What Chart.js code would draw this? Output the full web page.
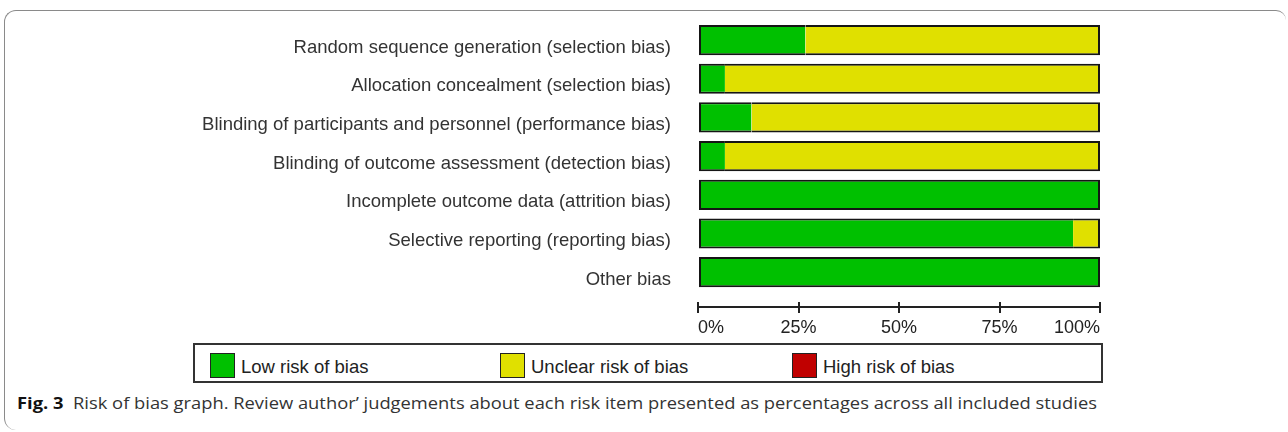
<!DOCTYPE html>
<html>
<head>
<meta charset="utf-8">
<script src="https://cdn.jsdelivr.net/npm/chart.js@4"></script>
<style>
    body { margin: 0; width: 1288px; height: 432px; background: #fff; position: relative; overflow: hidden; }
    #frame { position: absolute; left: 4px; top: 10px; width: 1282px; height: 420px; border-top: 1px solid #8a8a8a; border-left: 1px solid #8a8a8a; border-radius: 12px 10px 0 12px; box-sizing: border-box; }
    #wrap { position: absolute; left: 0; top: 0; width: 1288px; height: 340px; }
    #legend { position: absolute; left: 193px; top: 343px; width: 910px; height: 40px; border: 2px solid #333; box-sizing: border-box; font-family: "Liberation Sans", Arial, sans-serif; font-size: 18.5px; color: #222; }
    .item { position: absolute; top: 8px; height: 25px; line-height: 25px; white-space: nowrap; }
    .item span.box { position: absolute; left: 0; top: 0; width: 23px; height: 23px; border: 1px solid #222; }
    .item span.txt { position: absolute; left: 31px; top: 1px; }
    #caption { position: absolute; left: 17px; top: 392px; font-family: "Open Sans", "Noto Sans", sans-serif; font-size: 15.5px; color: #333; white-space: nowrap; transform-origin: 0 0; }
    #caption b { color: #111; }
</style>
</head>
<body>
<div id="frame"></div>
<div id="wrap"><canvas id="chart"></canvas></div>
<div id="legend"></div>
<div id="caption"><b>Fig. 3</b>&nbsp; Risk of bias graph. Review author’ judgements about each risk item presented as percentages across all included studies</div>
<script>
    // risk of bias domains, top to bottom
    let categories = [
        'Random sequence generation (selection bias)',
        'Allocation concealment (selection bias)',
        'Blinding of participants and personnel (performance bias)',
        'Blinding of outcome assessment (detection bias)',
        'Incomplete outcome data (attrition bias)',
        'Selective reporting (reporting bias)',
        'Other bias'
    ];
    // percent of studies per judgement
    let lowRisk = [26.7, 6.7, 13.3, 6.7, 100, 93.3, 100];
    let unclearRisk = [73.3, 93.3, 86.7, 93.3, 0, 6.7, 0];
    let highRisk = [0, 0, 0, 0, 0, 0, 0];
    let seriesNames = ['Low risk of bias', 'Unclear risk of bias', 'High risk of bias'];
    let seriesColors = ['#00c000', '#e0e000', '#c00000'];
    let xTicks = [0, 25, 50, 75, 100];

    let series = [lowRisk, unclearRisk, highRisk];

    // outline the whole bar, not the joins between segments
    function segmentBorder(ctx) {
        let i = ctx.dataIndex;
        let d = ctx.datasetIndex;
        let v = series[d][i];
        if (!v) return 0;
        let start = 0;
        for (let k = 0; k < d; k++) start += series[k][i];
        let end = start + v;
        return { top: 2, bottom: 2, left: start === 0 ? 2 : 0, right: end >= 99.9 ? 2 : 0 };
    }

    let datasets = series.map((values, d) => ({
        label: seriesNames[d],
        data: values.map((v, i) => ({ x: v, y: i })),
        backgroundColor: seriesColors[d],
        borderColor: '#151515',
        borderWidth: segmentBorder,
        borderSkipped: false,
        barPercentage: 0.78,
        categoryPercentage: 1
    }));

    // small tick marks above the axis line
    const upperTicks = {
        id: 'upperTicks',
        afterDraw(chart) {
            let x = chart.scales.x;
            let c = chart.ctx;
            c.save();
            c.strokeStyle = '#222';
            c.lineWidth = 2;
            xTicks.forEach(t => {
                let px = Math.round(x.getPixelForValue(t));
                c.beginPath();
                c.moveTo(px, chart.chartArea.bottom - 5);
                c.lineTo(px, chart.chartArea.bottom);
                c.stroke();
            });
            c.restore();
        }
    };

    new Chart(document.getElementById('chart'), {
        type: 'bar',
        data: { datasets: datasets },
        plugins: [upperTicks],
        options: {
            indexAxis: 'y',
            responsive: true,
            maintainAspectRatio: false,
            animation: false,
            layout: { padding: { top: 20.7, right: 188, bottom: 2, left: 0 } },
            plugins: { legend: { display: false }, tooltip: { enabled: false } },
            scales: {
                x: {
                    type: 'linear',
                    stacked: true,
                    min: 0,
                    max: 100,
                    afterBuildTicks: s => { s.ticks = xTicks.map(v => ({ value: v })); },
                    afterFit: s => { s.height = 31; },
                    grid: { drawOnChartArea: false, drawTicks: true, tickLength: 6, color: '#222', lineWidth: 2 },
                    border: { display: true, color: '#222', width: 2 },
                    ticks: {
                        align: 'inner',
                        padding: 4,
                        color: '#222',
                        font: { family: 'Liberation Sans', size: 18 },
                        callback: v => v + '%'
                    }
                },
                y: {
                    type: 'linear',
                    stacked: true,
                    reverse: true,
                    offset: false,
                    min: -0.5,
                    max: 6.9,
                    afterBuildTicks: s => {
                        s.ticks = categories.map((c, i) => ({ value: i }));
                        s.min = -0.5;
                        s.max = 6.9;
                    },
                    afterFit: s => {
                        s.width = 698;
                        s.paddingTop = 0;
                        s.paddingBottom = 0;
                    },
                    grid: { display: false, drawTicks: false, offset: false },
                    border: { display: false },
                    ticks: {
                        autoSkip: false,
                        padding: 27,
                        labelOffset: 7.5,
                        color: '#333',
                        font: { family: 'Liberation Sans', size: 18.5 },
                        callback: v => categories[v]
                    }
                }
            }
        }
    });

    // legend boxes at fixed spots, like the original figure
    let legendLeft = [15, 305, 597];
    let legend = document.getElementById('legend');
    seriesNames.forEach((name, d) => {
        let item = document.createElement('div');
        item.className = 'item';
        item.style.left = legendLeft[d] + 'px';
        item.innerHTML = '<span class="box" style="background:' + seriesColors[d] + '"></span><span class="txt">' + name + '</span>';
        legend.appendChild(item);
    });

    let caption = document.getElementById('caption');
    let w = caption.getBoundingClientRect().width;
    caption.style.transform = 'scaleX(' + (1080 / w) + ')';
</script>
</body>
</html>
